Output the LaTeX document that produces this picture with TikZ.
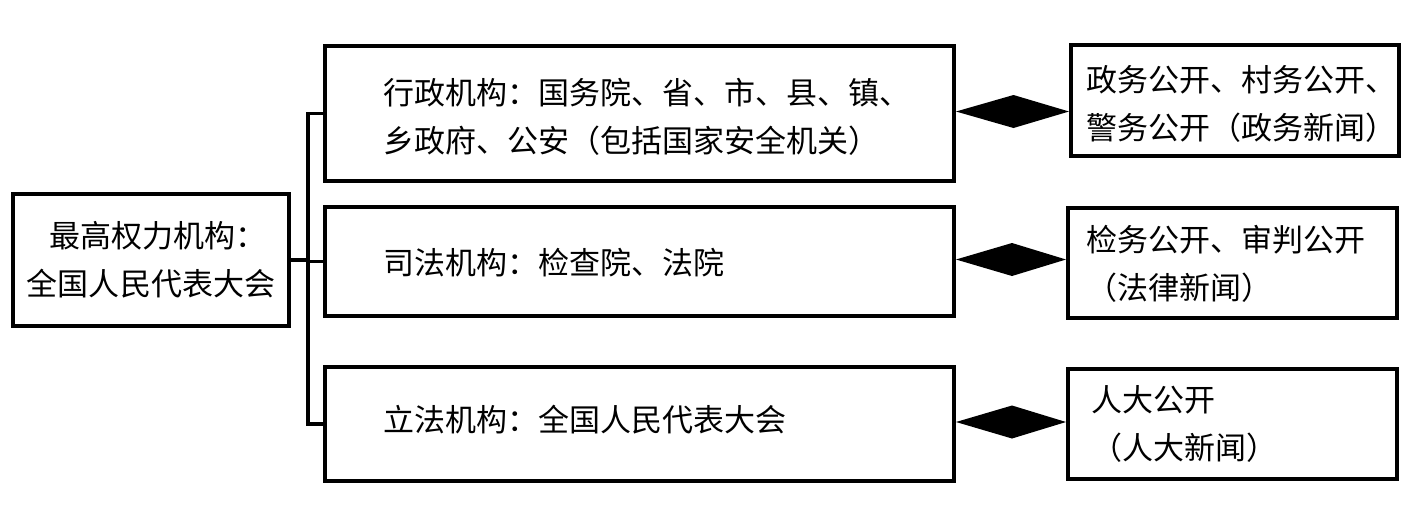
\documentclass[tikz,border=0pt]{standalone}
\usepackage{fontspec}
\setmainfont{Noto Sans CJK SC}
\usetikzlibrary{calc}
\tikzset{
  box/.style={draw, line width=3.2pt, inner sep=0pt, outer sep=0pt, fill=white},
  txt/.style={inner sep=0pt, outer sep=0pt, anchor=west, align=left,
    font=\fontsize{31}{48}\selectfont},
  conn/.style={line width=3.2pt},
  diam/.style={fill=black}
}
\begin{document}
\begin{tikzpicture}[x=1pt,y=-1pt]
\useasboundingbox (0,0) rectangle (1413,523);
% left box
\node[box, minimum width=276pt, minimum height=132pt, align=center,
  font=\fontsize{31}{48}\selectfont] (L) at (151,260) {\hspace*{14pt}最高权力机构：\\全国人民代表大会};
% middle boxes
\node[box, minimum width=629pt, minimum height=135pt] (m1) at (639.5,113.5) {};
\node[box, minimum width=629pt, minimum height=109pt] (m2) at (639.5,261.5) {};
\node[box, minimum width=629pt, minimum height=114pt] (m3) at (639.5,424) {};
% right boxes
\node[box, minimum width=328pt, minimum height=111pt] (r1) at (1235,100.5) {};
\node[box, minimum width=329pt, minimum height=110pt] (r2) at (1232.5,263) {};
\node[box, minimum width=329pt, minimum height=110pt] (r3) at (1232.5,424) {};
% texts
\node[txt] (t1) at ($(m1.west)+(58,3)$) {行政机构：国务院、省、市、县、镇、\\乡政府、公安（包括国家安全机关）};
\node[txt] (t2) at ($(m2.west)+(58,1)$) {司法机构：检查院、法院};
\node[txt] (t3) at ($(m3.west)+(58,-4)$) {立法机构：全国人民代表大会};
\node[txt] (u1) at ($(r1.west)+(15,3)$) {政务公开、村务公开、\\警务公开（政务新闻）};
\node[txt] (u2) at ($(r2.west)+(18,1)$) {检务公开、审判公开\\（法律新闻）};
\node[txt] (u3) at ($(r3.west)+(23,0)$) {人大公开\\（人大新闻）};
% trunk
\coordinate (tk) at (308,0);
\draw[conn] (L.east) -- (L.east -| tk);
\draw[conn] (m1.west) -- (m1.west -| tk) -- (m3.west -| tk) -- (m3.west);
\draw[conn] (m2.west) -- (m2.west -| tk);
% diamonds
\foreach \m/\r in {m1/r1, m2/r2, m3/r3}{
  \fill[diam] ($(\m.east)+(2,-2)$) coordinate (a)
    -- ($(a)!0.5!(a -| \r.west)+(0,-16.5)$)
    -- ($(a -| \r.west)+(-2,0)$)
    -- ($(a)!0.5!(a -| \r.west)+(0,16.5)$) -- cycle;
}
\end{tikzpicture}
\end{document}
